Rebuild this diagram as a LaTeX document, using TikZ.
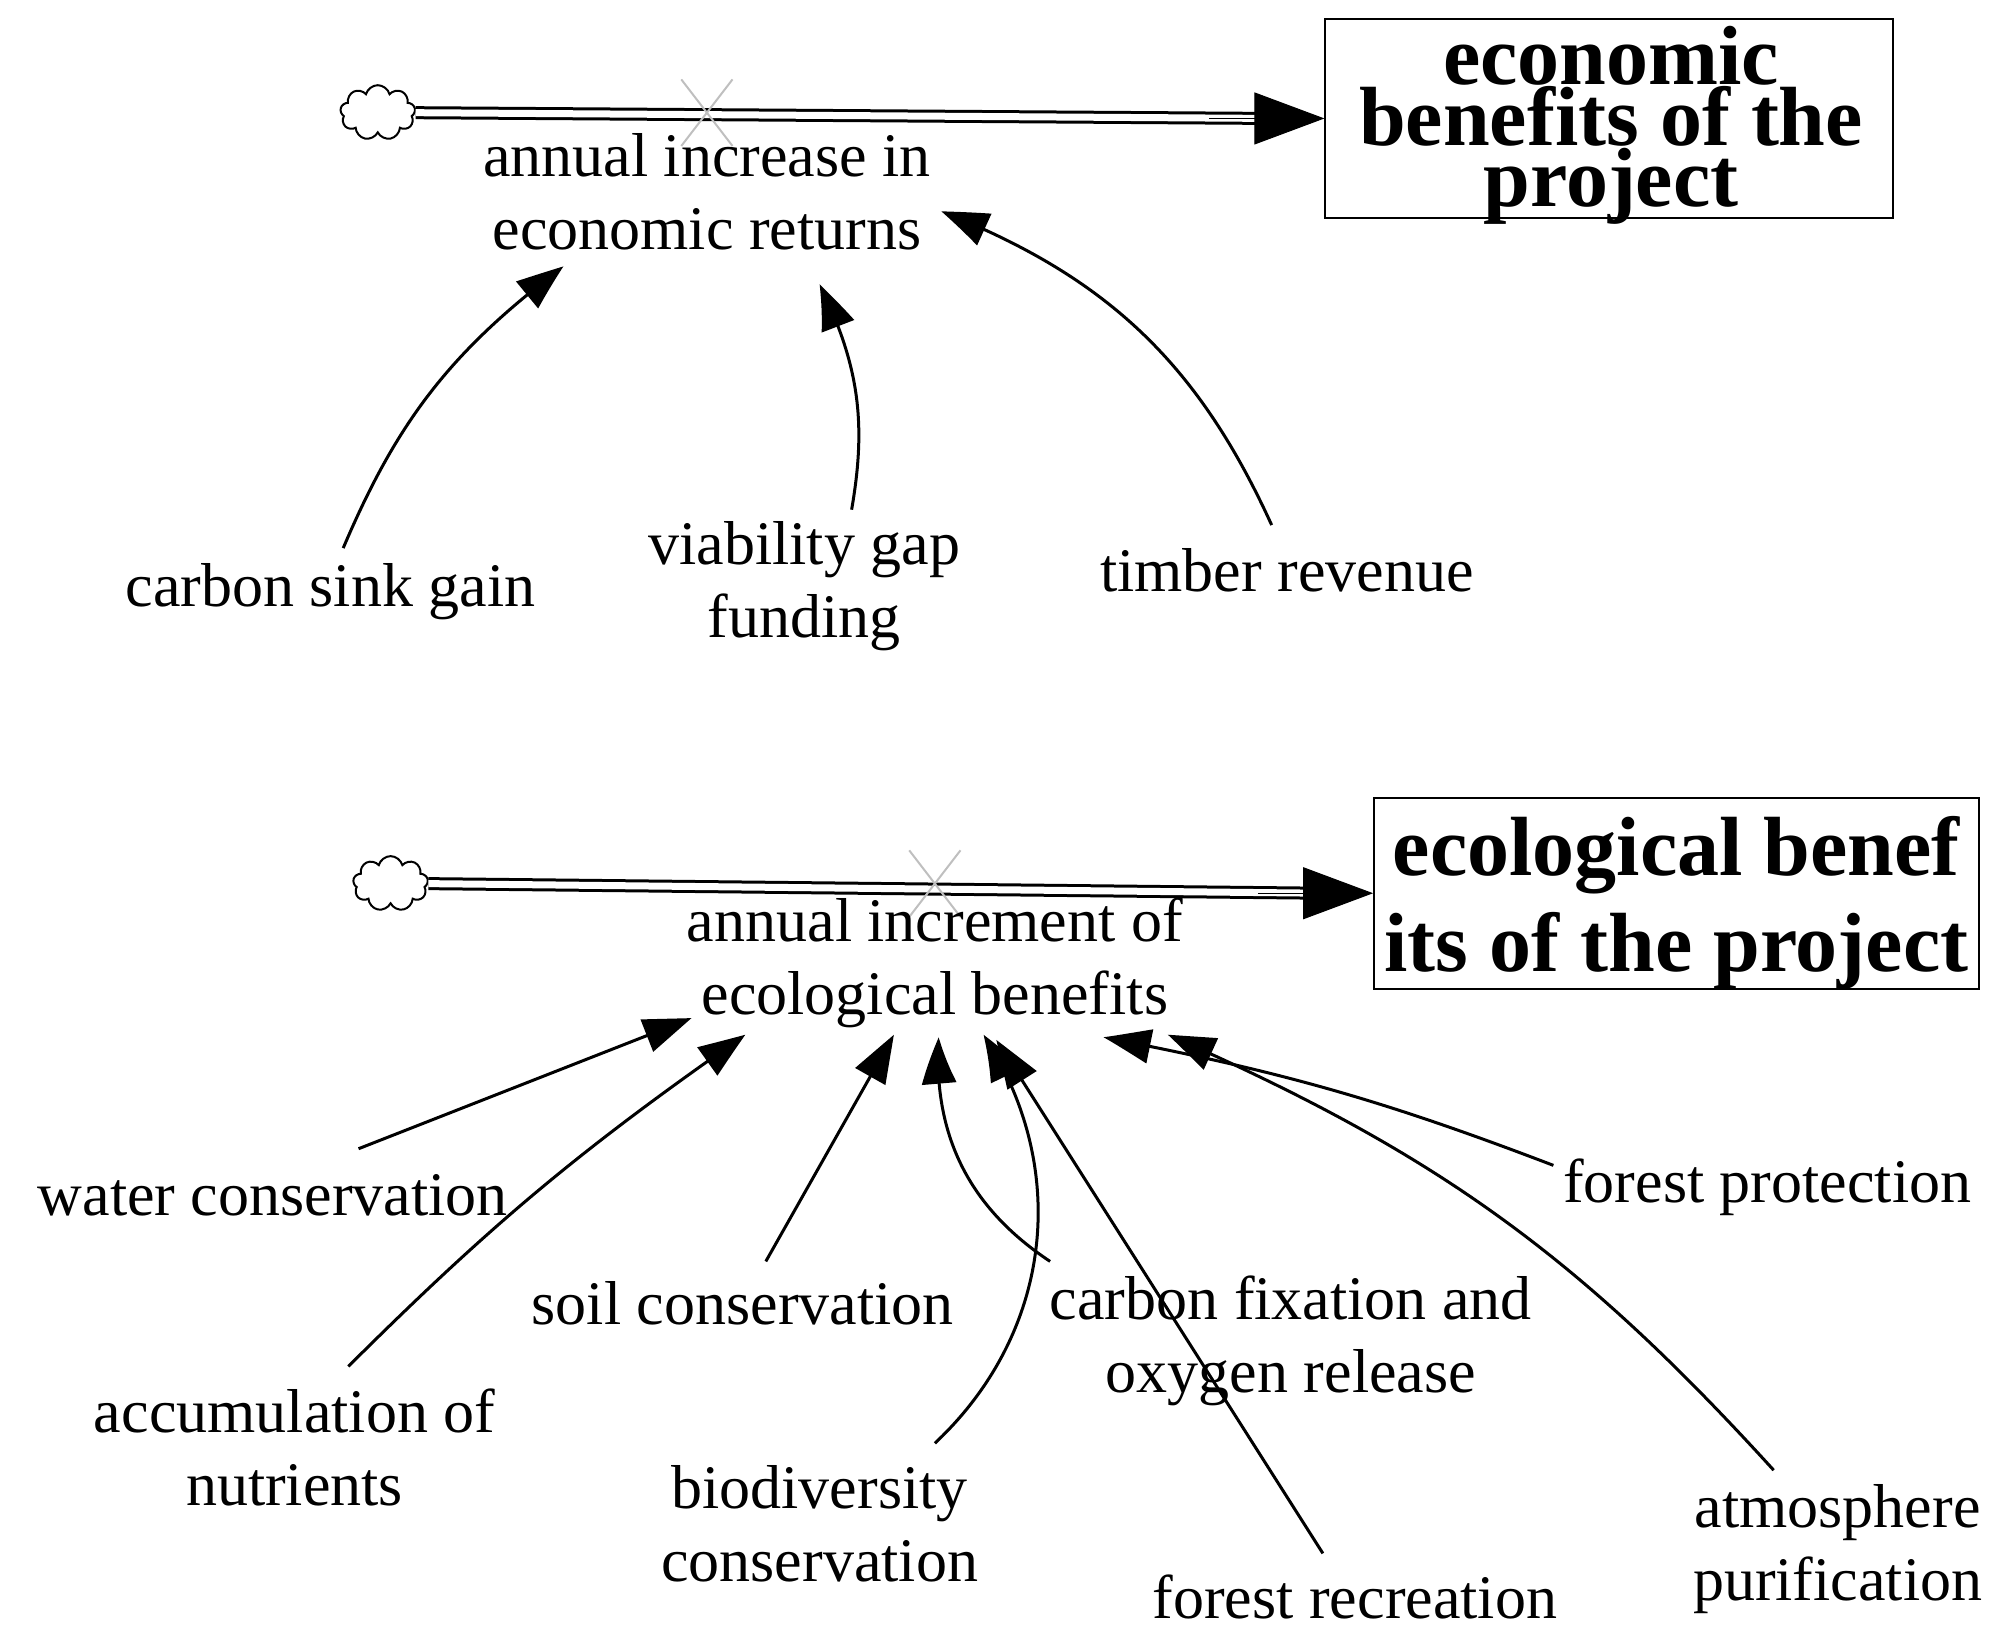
\documentclass[tikz,border=0pt]{standalone}
\usepackage{fontspec}
\setmainfont{Liberation Serif}
\usetikzlibrary{arrows.meta,shapes.symbols,bending,calc}
\begin{document}
\begin{tikzpicture}[x=1.2806pt,y=-1.2806pt,
  lbl/.style={font=\fontsize{62}{73}\selectfont,align=center,inner sep=0pt},
  cl/.style={cloud,cloud puffs=9,draw,line width=2pt,minimum width=75pt,minimum height=55pt,inner sep=0pt},
  link/.style={line width=3pt,-{Triangle[length=48pt,width=34pt,bend]}},
  pipe/.style={double,double distance=7pt,line width=3pt},
  head/.style={line width=1pt,-{Triangle[length=70pt,width=52pt]}},
  valve/.style={gray!50,line width=2pt}]
\useasboundingbox (0,0) rectangle (1568,1274);
% top
\node[cl] (c1) at (295,88) {};
\node[draw,line width=2pt,minimum width=443*1.2806pt,minimum height=155*1.2806pt] (s1) at (1256.5,92.5) {};
\node[font=\fontsize{84}{61}\selectfont\bfseries,align=center,inner sep=0pt] (s1t) at (1258,98) {economic\\benefits of the\\project};
\draw[pipe] (c1.east) -- ($(s1.west)+(-40,0)$);
\draw[head] ($(s1.west)+(-90,0)$) -- (s1.west);
\draw[valve] (532,62) -- (572,114) (572,62) -- (532,114);
\node[lbl] (r1) at (552,150) {annual increase in\\economic returns};
\node[lbl] (csg) at (258,462) {carbon sink gain};
\node[lbl] (vgf) at (628,458) {viability gap\\funding};
\node[lbl] (tr) at (1005,445) {timber revenue};
\draw[link] (268,428) to[bend left=15] (440,208);
\draw[link] (665,398) to[bend right=18] (640,222);
\draw[link] (993,410) to[bend right=22] (735,165);
% bottom
\node[cl] (c2) at (305,690) {};
\node[draw,line width=2pt,minimum width=472*1.2806pt,minimum height=149*1.2806pt] (s2) at (1309,697.5) {};
\node[font=\fontsize{84}{96}\selectfont\bfseries,align=center,inner sep=0pt] (s2t) at (1309,705) {ecological benef\\its of the project};
\draw[pipe] (c2.east) -- ($(s2.west)+(-40,0)$);
\draw[head] ($(s2.west)+(-90,0)$) -- (s2.west);
\draw[valve] (710,664) -- (750,716) (750,664) -- (710,716);
\node[lbl] (r2) at (730,752) {annual increment of\\ecological benefits};
\node[lbl] (wc) at (213,933) {water conservation};
\node[lbl] (an) at (230,1130) {accumulation of\\nutrients};
\node[lbl] (sc) at (580,1018) {soil conservation};
\node[lbl] (bc) at (640,1190) {biodiversity\\conservation};
\node[lbl] (cf) at (1008,1047) {carbon fixation and\\oxygen release};
\node[lbl] (fr) at (1058,1247) {forest recreation};
\node[lbl] (fp) at (1380,927) {forest protection};
\node[lbl] (ap) at (1435,1210) {atmosphere\\purification};
\draw[link] (280,897) -- (540,795);
\draw[link] (272,1067) to[bend left=5] (582,808);
\draw[link] (598,985) -- (698,808);
\draw[link] (730,1127) to[bend right=40] (768,808);
\draw[link] (820,985) to[bend left=30] (733,810);
\draw[link] (1033,1213) -- (778,812);
\draw[link] (1213,910) to[bend right=5] (862,810);
\draw[link] (1385,1148) to[bend right=12] (912,808);
\end{tikzpicture}
\end{document}
